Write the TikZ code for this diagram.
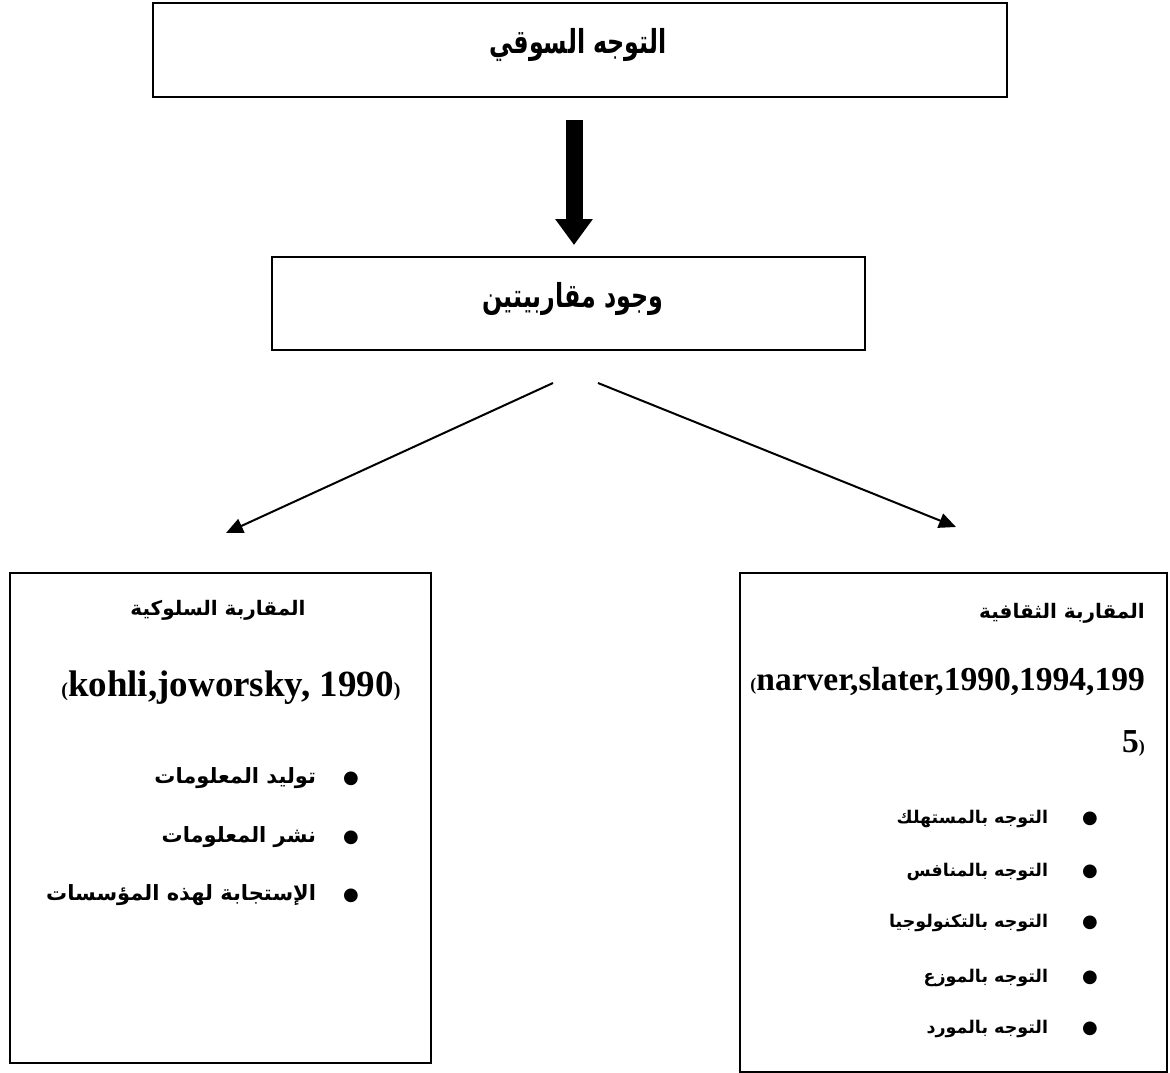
\documentclass[tikz,border=0pt]{standalone}
\usepackage{fontspec}
\usetikzlibrary{arrows.meta}
\TeXXeTstate=1
\newfontfamily\arabicfont[Script=Arabic]{DejaVu Sans}
\newfontfamily\headfont[Script=Arabic,FakeStretch=0.72]{DejaVu Sans}
\newfontfamily\latinfont{Liberation Serif}
\newfontfamily\bulletfont{DejaVu Sans}
\begin{document}
\begin{tikzpicture}[x=1pt,y=-1pt,
  frame/.style={draw, line width=2.2pt, inner sep=0pt},
  headtext/.style={font=\headfont\bfseries\fontsize{33}{38}\selectfont, inner sep=0pt},
  titletext/.style={font=\arabicfont\bfseries\fontsize{20}{24}\selectfont, inner sep=0pt},
  reftext/.style={font=\latinfont\bfseries, inner sep=0pt},
  itemL/.style={font=\arabicfont\bfseries\fontsize{21}{25}\selectfont, inner sep=0pt, anchor=east},
  itemR/.style={font=\arabicfont\bfseries\fontsize{17.5}{21}\selectfont, inner sep=0pt, anchor=east},
  thinarrow/.style={line width=2pt, -{Triangle[length=17pt,width=15pt]}},
  bigarrow/.style={line width=17pt, -{Triangle[length=26pt,width=36pt]}}
]
\useasboundingbox (0,0) rectangle (1170,1073);
\fill[white] (0,0) rectangle (1170,1073);

% boxes
\node[frame, line width=2.8pt, minimum width=854pt, minimum height=94pt] (top) at (580,50) {};
\node[frame, minimum width=593pt, minimum height=93pt] (mid) at (568.5,303.5) {};
\node[frame, minimum width=421pt, minimum height=490pt] (left) at (220.5,818) {};
\node[frame, minimum width=427pt, minimum height=499pt] (right) at (953.5,822.5) {};

% texts of upper boxes
\node[headtext] (toptext) at (578,45) {\beginR التوجه السوقي\endR};
\node[headtext] (midtext) at (573,299) {\beginR وجود مقاربيتين\endR};

% big arrow
\coordinate (bigA) at (574,120);
\coordinate (bigB) at (574,245);
\draw[bigarrow] (bigA) -- (bigB);

% thin arrows
\coordinate (la) at (553,383);
\coordinate (lb) at (226,533);
\coordinate (ra) at (598,383);
\coordinate (rb) at (956,527);
\draw[thinarrow] (la) -- (lb);
\draw[thinarrow] (ra) -- (rb);

% left box contents
\node[titletext] (ltitle) at (218,610) {\beginR المقاربة السلوكية\endR};
\node[reftext, anchor=base] (lref) at (231,696) {{\fontsize{20}{20}\selectfont(}{\fontsize{37}{40}\selectfont kohli,joworsky, 1990}{\fontsize{20}{20}\selectfont)}};
\node[itemL] (l1) at (359,778) {\beginR{\bulletfont\fontsize{18}{18}\selectfont ●}\hspace{27pt}توليد المعلومات\endR};
\node[itemL] (l2) at (359,837) {\beginR{\bulletfont\fontsize{18}{18}\selectfont ●}\hspace{27pt}نشر المعلومات\endR};
\node[itemL] (l3) at (359,895) {\beginR{\bulletfont\fontsize{18}{18}\selectfont ●}\hspace{27pt}الإستجابة لهذه المؤسسات\endR};

% right box contents
\node[titletext, anchor=east] (rtitle) at (1145,613) {\beginR المقاربة الثقافية\endR};
\node[reftext, anchor=base east] (rref1) at (1145,690) {{\fontsize{18}{18}\selectfont(}{\fontsize{33.5}{37}\selectfont narver,slater,1990,1994,199}};
\node[reftext, anchor=base east] (rref2) at (1145,752) {{\fontsize{33.5}{37}\selectfont 5}{\fontsize{18}{18}\selectfont)}};
\node[itemR] (r1) at (1098,819) {\beginR{\bulletfont\fontsize{18}{18}\selectfont ●}\hspace{34pt}التوجه بالمستهلك\endR};
\node[itemR] (r2) at (1098,872) {\beginR{\bulletfont\fontsize{18}{18}\selectfont ●}\hspace{34pt}التوجه بالمنافس\endR};
\node[itemR] (r3) at (1098,923) {\beginR{\bulletfont\fontsize{18}{18}\selectfont ●}\hspace{34pt}التوجه بالتكنولوجيا\endR};
\node[itemR] (r4) at (1098,978) {\beginR{\bulletfont\fontsize{18}{18}\selectfont ●}\hspace{34pt}التوجه بالموزع\endR};
\node[itemR] (r5) at (1098,1029) {\beginR{\bulletfont\fontsize{18}{18}\selectfont ●}\hspace{34pt}التوجه بالمورد\endR};
\end{tikzpicture}
\end{document}
